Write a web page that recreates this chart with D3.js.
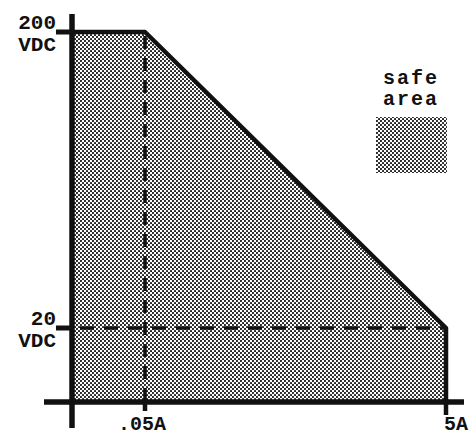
<!DOCTYPE html>
<html>
<head>
<meta charset="utf-8">
<script src="https://cdn.jsdelivr.net/npm/d3@7"></script>
<style>
	body { margin: 0; background: #fff; }
	text { font-family: "Liberation Mono", "DejaVu Sans Mono", monospace; font-weight: bold; fill: #111; }
</style>
</head>
<body>
<div></div>
<script>
const width = 470;
const height = 436;

// limits of the safe operating area
const volts = [200, 20];
const amps = [0.05, 5];
const voltLabels = ["200", "20"];
const ampLabels = [".05A", "5A"];
const legendLines = ["safe", "area"];

const originX = 72;
const baseY = 402;

const x = d3.scaleLog().domain([amps[0], amps[1]]).range([145, 446]);
const y = d3.scaleLog().domain([volts[1], volts[0]]).range([328, 32]);

const svg = d3.select("div")
	.append("svg")
	.attr("width", width)
	.attr("height", height);

const pat = svg.append("defs")
	.append("pattern")
	.attr("id", "dots")
	.attr("patternUnits", "userSpaceOnUse")
	.attr("width", 4)
	.attr("height", 4);
pat.append("rect").attr("width", 4).attr("height", 4).attr("fill", "#fff");
pat.append("circle").attr("cx", 1).attr("cy", 1).attr("r", 1.05).attr("fill", "#151515");
pat.append("circle").attr("cx", 3).attr("cy", 3).attr("r", 1.05).attr("fill", "#151515");

// safe area polygon
const area = [
	[originX, y(volts[0])],
	[x(amps[0]), y(volts[0])],
	[x(amps[1]), y(volts[1])],
	[x(amps[1]), baseY],
	[originX, baseY]
];
svg.append("path")
	.attr("d", "M" + area.join("L") + "Z")
	.attr("fill", "url(#dots)");

// outline (top, diagonal, right side)
svg.append("path")
	.attr("d", d3.line()(area.slice(0, 4)))
	.attr("fill", "none")
	.attr("stroke", "#111")
	.attr("stroke-width", 4.5)
	.attr("stroke-linejoin", "round");

// dashed guides
svg.append("line")
	.attr("x1", x(amps[0])).attr("x2", x(amps[0]))
	.attr("y1", y(volts[0]) + 4).attr("y2", baseY)
	.attr("stroke", "#111").attr("stroke-width", 3.5)
	.attr("stroke-dasharray", "13,9");
svg.append("line")
	.attr("x1", originX + 8).attr("x2", x(amps[1]))
	.attr("y1", y(volts[1])).attr("y2", y(volts[1]))
	.attr("stroke", "#111").attr("stroke-width", 3.5)
	.attr("stroke-dasharray", "14,10");

// axes
svg.append("line")
	.attr("x1", originX).attr("x2", originX)
	.attr("y1", 14).attr("y2", 428)
	.attr("stroke", "#111").attr("stroke-width", 5.5);
svg.append("line")
	.attr("x1", 44).attr("x2", 464)
	.attr("y1", baseY).attr("y2", baseY)
	.attr("stroke", "#111").attr("stroke-width", 5.5);

// y ticks and labels
volts.forEach(function (v, i) {
	svg.append("line")
		.attr("x1", 56).attr("x2", originX)
		.attr("y1", y(v)).attr("y2", y(v))
		.attr("stroke", "#111").attr("stroke-width", 5);
	const t = svg.append("text")
		.attr("text-anchor", "end")
		.attr("font-size", 21);
	t.append("tspan").attr("x", 56).attr("y", y(v) - 3).text(voltLabels[i]);
	t.append("tspan").attr("x", 56).attr("y", y(v) + 19).text("VDC");
});

// x ticks and labels
amps.forEach(function (a, i) {
	svg.append("line")
		.attr("x1", x(a)).attr("x2", x(a))
		.attr("y1", baseY).attr("y2", baseY + (i == 0 ? 9 : 13))
		.attr("stroke", "#111").attr("stroke-width", 4.5);
	svg.append("text")
		.attr("x", i == 0 ? x(a) - 27 : x(a) - 2)
		.attr("y", 430)
		.attr("font-size", 20)
		.text(ampLabels[i]);
});

// legend
legendLines.forEach(function (s, i) {
	svg.append("text")
		.attr("x", 411)
		.attr("y", 84 + i * 21)
		.attr("text-anchor", "middle")
		.attr("font-size", 20)
		.attr("letter-spacing", 2)
		.text(s);
});
svg.append("rect")
	.attr("x", 376).attr("y", 117)
	.attr("width", 71).attr("height", 56)
	.attr("fill", "url(#dots)");
</script>
</body>
</html>
